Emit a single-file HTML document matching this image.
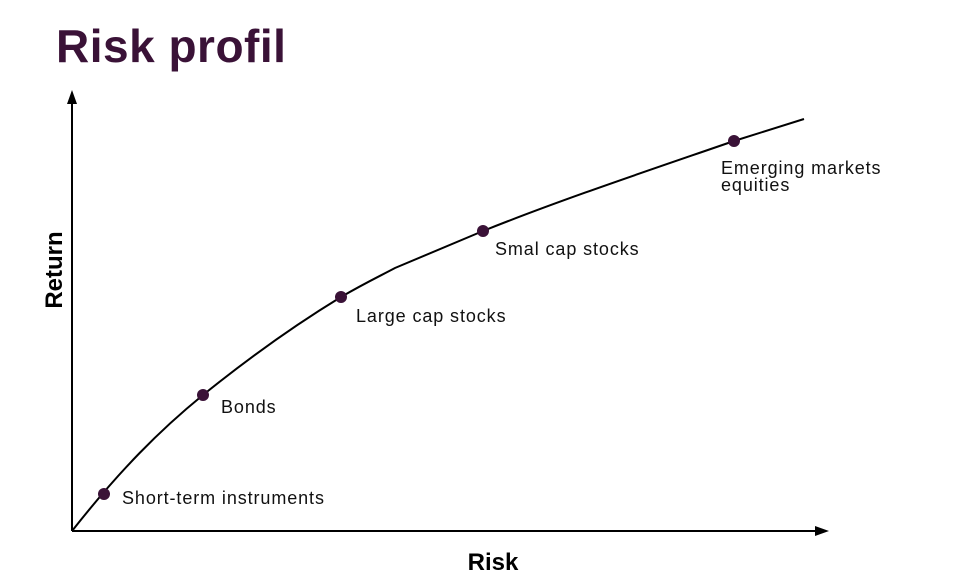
<!DOCTYPE html>
<html><head><meta charset="utf-8"><style>
body{margin:0;background:#fff;width:959px;height:587px;overflow:hidden}
svg{display:block}
</style></head><body>
<svg width="959" height="587" xmlns="http://www.w3.org/2000/svg" font-family="Liberation Sans, sans-serif">
<text x="56" y="62" font-size="46" font-weight="bold" fill="#3a1237" letter-spacing="0.5">Risk profil</text>
<line x1="72" y1="531" x2="72" y2="100" stroke="#000" stroke-width="2"/>
<polygon points="72,90 67,104 77,104" fill="#000"/>
<line x1="72" y1="531" x2="818" y2="531" stroke="#000" stroke-width="2"/>
<polygon points="829,531 815,526 815,536" fill="#000"/>
<path d="M72,531 C120,470 160,430 203,395 C250,357 300,322 341,297 C365,283 380,276 395,268 L483,231 C560,200 650,170 734,141 L804,119" fill="none" stroke="#000" stroke-width="2"/>
<g fill="#3a1237">
<circle cx="104" cy="494" r="6"/><circle cx="203" cy="395" r="6"/><circle cx="341" cy="297" r="6"/><circle cx="483" cy="231" r="6"/><circle cx="734" cy="141" r="6"/>
</g>
<g font-size="18" fill="#111" letter-spacing="0.9">
<text x="122" y="504">Short-term instruments</text>
<text x="221" y="413">Bonds</text>
<text x="356" y="322">Large cap stocks</text>
<text x="495" y="255">Smal cap stocks</text>
<text x="721" y="174">Emerging markets</text>
<text x="721" y="191">equities</text>
</g>
<text x="493" y="570" font-size="24" font-weight="bold" text-anchor="middle">Risk</text>
<text transform="translate(62,270) rotate(-90)" font-size="24" font-weight="bold" text-anchor="middle">Return</text>
</svg>
</body></html>
